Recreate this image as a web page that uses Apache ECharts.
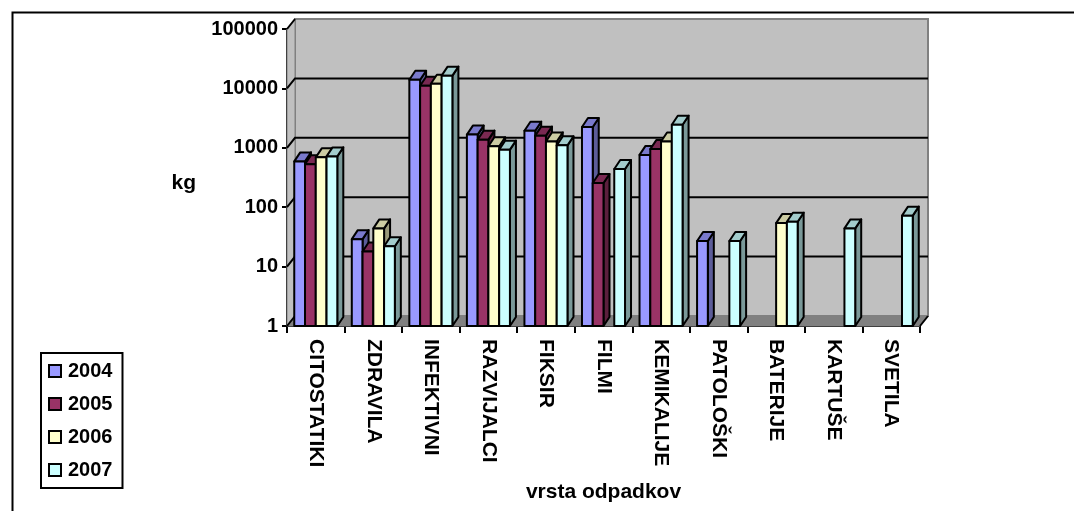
<!DOCTYPE html>
<html>
<head>
<meta charset="utf-8">
<script src="https://cdn.jsdelivr.net/npm/echarts@6/dist/echarts.min.js"></script>
<style>
  html, body { margin: 0; padding: 0; background: #ffffff; }
  #chart { width: 1074px; height: 511px; }
</style>
</head>
<body>
<div id="chart"></div>
<script>
// Waste categories and yearly quantities (kg)
const categories = ['CITOSTATIKI', 'ZDRAVILA', 'INFEKTIVNI', 'RAZVIJALCI', 'FIKSIR', 'FILMI',
  'KEMIKALIJE', 'PATOLOŠKI', 'BATERIJE', 'KARTUŠE', 'SVETILA'];
const years = ['2004', '2005', '2006', '2007'];
const kg2004 = [590, 29, 14000, 1670, 1940, 2240, 760, 27, null, null, null];
const kg2005 = [530, 18, 11100, 1370, 1600, 255, 950, null, null, null, null];
const kg2006 = [690, 44, 12000, 1060, 1280, null, 1280, null, 54, null, null];
const kg2007 = [716, 22, 16400, 930, 1100, 440, 2450, 27, 57, 44, 72];
const yTicks = [1, 10, 100, 1000, 10000, 100000];

// Face colours per year: front, top, side
const faces = [
  ['#9999FF', '#7A7ACC', '#5C5C99'],
  ['#993366', '#7A2952', '#5C1F3D'],
  ['#FFFFCC', '#CCCCA3', '#99997A'],
  ['#CCFFFF', '#A3CCCC', '#7A9999']
];
const yearValues = [kg2004, kg2005, kg2006, kg2007];

// Perspective offsets of the back wall and of the bar depth
const WALL = [8, -10];
const DEPTH = [6, -9];
const FONT = '"Liberation Sans", Arial, sans-serif';

function wallRenderer(params, api) {
  const cs = params.coordSys;
  const x = cs.x, y = cs.y, w = cs.width, h = cs.height;
  const dx = WALL[0], dy = WALL[1];
  const children = [];
  // back wall
  children.push({ type: 'rect', shape: { x: x + dx, y: y + dy, width: w, height: h },
    style: { fill: '#C0C0C0', stroke: '#808080', lineWidth: 2 } });
  // side wall
  children.push({ type: 'polygon', shape: { points: [[x, y + h], [x, y], [x + dx, y + dy], [x + dx, y + h + dy]] },
    style: { fill: '#C0C0C0', stroke: '#808080', lineWidth: 1 } });
  // floor
  children.push({ type: 'polygon', shape: { points: [[x, y + h], [x + w, y + h], [x + w + dx, y + h + dy], [x + dx, y + h + dy]] },
    style: { fill: '#808080', stroke: '#808080', lineWidth: 1 } });
  // gridlines on the back wall
  yTicks.forEach(function (t) {
    const yy = api.coord([0, t])[1];
    const inner = t > yTicks[0] && t < yTicks[yTicks.length - 1];
    const pts = inner
      ? [[x, yy], [x + dx, yy + dy], [x + w + dx, yy + dy]]
      : [[x, yy], [x + dx, yy + dy]];
    children.push({ type: 'polyline', shape: { points: pts },
      style: { stroke: '#000', lineWidth: 2, fill: null } });
  });
  // right edge of floor
  children.push({ type: 'line', shape: { x1: x + w, y1: y + h, x2: x + w + dx, y2: y + h + dy },
    style: { stroke: '#000', lineWidth: 2 } });
  return { type: 'group', children: children };
}

function barRenderer(k) {
  return function (params, api) {
    const ci = api.value(0), v = api.value(1);
    if (!(v > 0)) return null;
    const cs = params.coordSys;
    const band = cs.width / categories.length;
    const p = api.coord([ci, v]);
    const b = api.coord([ci, 1]);
    const bw = band * 0.187;
    const x0 = p[0] - 2 * bw + k * bw, x1 = x0 + bw;
    const yt = p[1], yb = b[1];
    const dx = DEPTH[0], dy = DEPTH[1];
    const line = { stroke: '#000', lineWidth: 2, lineJoin: 'round' };
    return {
      type: 'group',
      children: [
        { type: 'polygon', shape: { points: [[x1, yt], [x1 + dx, yt + dy], [x1 + dx, yb + dy], [x1, yb]] },
          style: Object.assign({ fill: faces[k][2] }, line) },
        { type: 'polygon', shape: { points: [[x0, yt], [x1, yt], [x1 + dx, yt + dy], [x0 + dx, yt + dy]] },
          style: Object.assign({ fill: faces[k][1] }, line) },
        { type: 'rect', shape: { x: x0, y: yt, width: bw, height: yb - yt },
          style: Object.assign({ fill: faces[k][0] }, line) }
      ]
    };
  };
}

const series = [{
  type: 'custom',
  name: 'wall',
  renderItem: wallRenderer,
  data: [[0, 1]],
  z: 1,
  silent: true
}];
years.forEach(function (yr, k) {
  const data = [];
  yearValues[k].forEach(function (v, i) { if (v != null) data.push([i, v]); });
  series.push({
    type: 'custom',
    name: yr,
    renderItem: barRenderer(k),
    itemStyle: { color: faces[k][0] },
    data: data,
    z: 2
  });
});

const chart = echarts.init(document.getElementById('chart'), null, { renderer: 'canvas' });
chart.setOption({
  animation: false,
  backgroundColor: '#ffffff',
  textStyle: { fontFamily: FONT },
  grid: { left: 287, top: 29, width: 633, height: 297, containLabel: false },
  legend: {
    data: years.map(function (y) { return { name: y, icon: 'rect' }; }),
    orient: 'vertical',
    left: 41, top: 353,
    padding: [8, 10, 8, 7],
    itemWidth: 12, itemHeight: 12,
    itemGap: 13,
    borderColor: '#000', borderWidth: 2,
    itemStyle: { borderColor: '#000', borderWidth: 2 },
    textStyle: { fontFamily: FONT, fontWeight: 'bold', fontSize: 20, color: '#000', lineHeight: 20,
      padding: [0, 0, 0, 2] }
  },
  xAxis: {
    type: 'category',
    data: categories,
    name: 'vrsta odpadkov',
    nameLocation: 'middle',
    nameGap: 156,
    nameTextStyle: { fontFamily: FONT, fontWeight: 'bold', fontSize: 21, color: '#000' },
    axisLine: { lineStyle: { color: '#000', width: 2 } },
    axisTick: { show: true, length: 7, lineStyle: { color: '#000', width: 2 } },
    axisLabel: { interval: 0, rotate: -90, margin: 13, color: '#000',
      fontFamily: FONT, fontWeight: 'bold', fontSize: 21 },
    splitLine: { show: false }
  },
  yAxis: {
    type: 'log',
    logBase: 10,
    min: yTicks[0],
    max: yTicks[yTicks.length - 1],
    name: '{gap|}\n{t|kg}',
    nameLocation: 'middle',
    nameRotate: 0,
    nameGap: 91,
    nameTextStyle: {
      rich: {
        gap: { height: 12, fontSize: 1 },
        t: { fontFamily: FONT, fontWeight: 'bold', fontSize: 21, color: '#000', height: 22 }
      }
    },
    axisLine: { show: true, lineStyle: { color: '#000', width: 2 } },
    axisTick: { show: true, length: 5, lineStyle: { color: '#000', width: 2 } },
    axisLabel: { margin: 9, color: '#000', fontFamily: FONT, fontWeight: 'bold', fontSize: 20,
      formatter: function (v) { return String(Math.round(v)); } },
    splitLine: { show: false }
  },
  graphic: [{
    type: 'rect',
    left: 10, top: 10,
    shape: { x: 0, y: 0, width: 1200, height: 700 },
    style: { fill: null, stroke: '#000', lineWidth: 2 },
    silent: true
  }],
  series: series
});
</script>
</body>
</html>
